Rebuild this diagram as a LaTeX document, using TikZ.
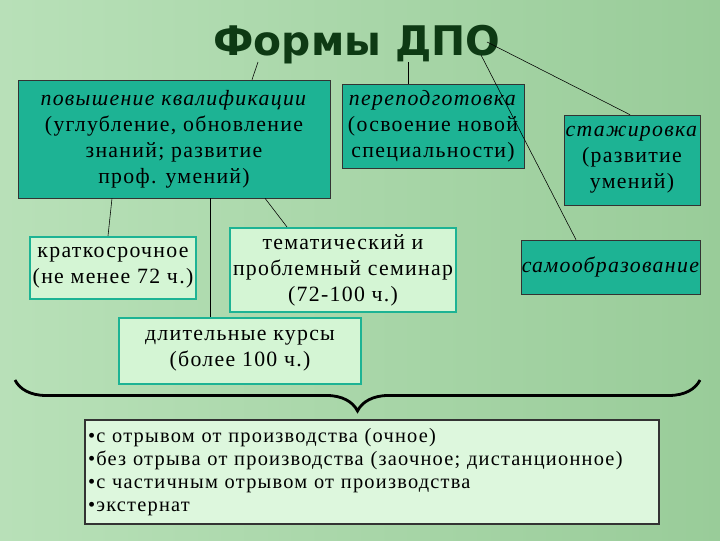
\documentclass[tikz,border=0pt]{standalone}
\usepackage{fontspec}
\setmainfont[LetterSpace=6]{Liberation Serif}
\newfontfamily\titlefont{DejaVu Sans}
\usetikzlibrary{decorations.pathreplacing}
\definecolor{teal1}{HTML}{1DB394}
\definecolor{pale}{HTML}{D4F5D4}
\definecolor{dgreen}{HTML}{0E3A14}
\begin{document}
\begin{tikzpicture}[x=0.025cm,y=-0.025cm,thin]
\tikzstyle{dark}=[draw=black!80,fill=teal1,inner sep=0pt,align=center,font=\fontsize{15.5}{18.5}\selectfont]
\tikzstyle{light}=[draw=teal1,line width=1.5pt,fill=pale,inner sep=0pt,align=center,font=\fontsize{15.5}{18.5}\selectfont]
\shade[left color=green!18!white!88!black,right color=green!25!white!80!black] (0,0) rectangle (720,540);
\node(title)at(357,45)[font=\titlefont\bfseries\fontsize{29}{31}\selectfont,text=dgreen]{Формы ДПО};
\node(kval)at(174,139)[dark,minimum width=312*0.025cm,minimum height=118*0.025cm]{\textit{повышение квалификации}\\(углубление, обновление\\знаний; развитие\\проф. умений)};
\node(perep)at(433,126)[dark,minimum width=182*0.025cm,minimum height=84*0.025cm]{\textit{переподготовка}\\(освоение новой\\специальности)};
\node(stazh)at(632,160)[dark,minimum width=136*0.025cm,minimum height=90*0.025cm]{\textit{стажировка}\\(развитие\\умений)};
\node(krat)at(113,268)[light,minimum width=166*0.025cm,minimum height=62*0.025cm]{краткосрочное\\(не менее 72 ч.)};
\node(tem)at(343,270)[light,minimum width=226*0.025cm,minimum height=84*0.025cm]{тематический и\\проблемный семинар\\(72-100 ч.)};
\node(samo)at(611,267)[dark,minimum width=168*0.025cm,minimum height=54*0.025cm]{\textit{самообразование}};
\node(dlit)at(240,351)[light,minimum width=242*0.025cm,minimum height=66*0.025cm]{длительные курсы\\(более 100 ч.)};
\node(forms)at(372,472)[draw=black!80,line width=1pt,fill=pale!80!white,minimum width=574*0.025cm,minimum height=104*0.025cm,inner sep=2pt,align=left,font=\fontsize{14.5}{16.5}\selectfont,text width=568*0.025cm]{•с отрывом от производства (очное)\\•без отрыва от производства (заочное; дистанционное)\\•с частичным отрывом от производства\\•экстернат};
\coordinate(t1)at(258,62);
\coordinate(t2)at(408,62);
\coordinate(t3)at(487,42);
\coordinate(t4)at(481,55);
\coordinate(b1)at(15,380);
\coordinate(b2)at(700,380);
\draw(t1)--(kval.north-|252,0);
\draw(t2)--(perep.north-|t2);
\draw(t3)--(stazh.north-|630,0);
\draw(t4)--(samo.north-|576,0);
\draw(kval.south-|112,0)--(krat.north-|108,0);
\draw(kval.south-|210,0)--(dlit.north-|210,0);
\draw(kval.south-|265,0)--(tem.north-|287,0);
\draw[line width=2pt,decorate,decoration={brace,mirror,amplitude=22pt}](b1)--(b2);
\end{tikzpicture}
\end{document}
